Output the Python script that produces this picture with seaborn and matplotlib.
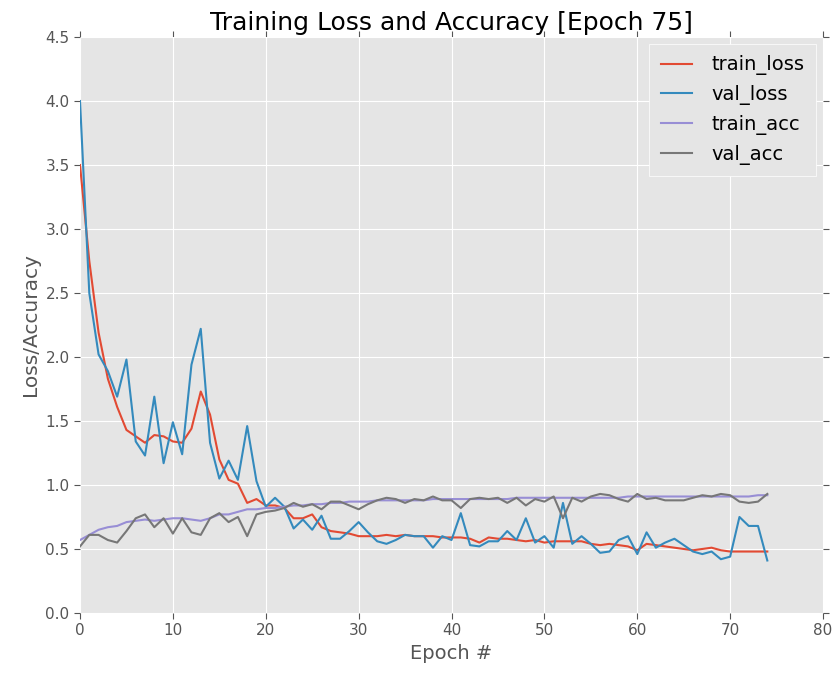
import matplotlib
matplotlib.use("Agg")
import matplotlib.pyplot as plt
import seaborn as sns
import pandas as pd
import numpy as np

# values, one per epoch (0..74)
train_loss = [3.50, 2.75, 2.19, 1.83, 1.61, 1.43, 1.38, 1.33, 1.39, 1.38,
              1.34, 1.33, 1.44, 1.73, 1.55, 1.20, 1.04, 1.01, 0.86, 0.89,
              0.84, 0.84, 0.82, 0.74, 0.74, 0.77, 0.67, 0.64, 0.63, 0.62,
              0.60, 0.60, 0.60, 0.61, 0.60, 0.61, 0.60, 0.60, 0.60, 0.59,
              0.59, 0.59, 0.58, 0.55, 0.59, 0.58, 0.58, 0.57, 0.56, 0.57,
              0.55, 0.56, 0.56, 0.56, 0.56, 0.54, 0.53, 0.54, 0.53, 0.52,
              0.49, 0.54, 0.53, 0.52, 0.51, 0.50, 0.49, 0.50, 0.51, 0.49,
              0.48, 0.48, 0.48, 0.48, 0.48]
val_loss = [4.00, 2.50, 2.02, 1.89, 1.69, 1.98, 1.34, 1.23, 1.69, 1.17,
            1.49, 1.24, 1.94, 2.22, 1.33, 1.05, 1.19, 1.04, 1.46, 1.03,
            0.83, 0.90, 0.83, 0.66, 0.73, 0.65, 0.76, 0.58, 0.58, 0.64,
            0.71, 0.63, 0.56, 0.54, 0.57, 0.61, 0.60, 0.60, 0.51, 0.60,
            0.57, 0.78, 0.53, 0.52, 0.56, 0.56, 0.64, 0.57, 0.74, 0.55,
            0.60, 0.51, 0.86, 0.54, 0.60, 0.54, 0.47, 0.48, 0.57, 0.60,
            0.46, 0.63, 0.51, 0.55, 0.58, 0.53, 0.48, 0.46, 0.48, 0.42,
            0.44, 0.75, 0.68, 0.68, 0.41]
train_acc = [0.57, 0.61, 0.65, 0.67, 0.68, 0.71, 0.72, 0.73, 0.72, 0.73,
             0.74, 0.74, 0.73, 0.72, 0.74, 0.77, 0.77, 0.79, 0.81, 0.81,
             0.82, 0.82, 0.83, 0.84, 0.84, 0.85, 0.85, 0.86, 0.86, 0.87,
             0.87, 0.87, 0.88, 0.88, 0.88, 0.88, 0.88, 0.88, 0.89, 0.89,
             0.89, 0.89, 0.89, 0.89, 0.89, 0.89, 0.89, 0.90, 0.90, 0.90,
             0.90, 0.90, 0.90, 0.90, 0.90, 0.90, 0.90, 0.90, 0.90, 0.91,
             0.91, 0.91, 0.91, 0.91, 0.91, 0.91, 0.91, 0.91, 0.91, 0.91,
             0.91, 0.91, 0.91, 0.92, 0.92]
val_acc = [0.52, 0.61, 0.61, 0.57, 0.55, 0.64, 0.74, 0.77, 0.67, 0.74,
           0.62, 0.74, 0.63, 0.61, 0.74, 0.78, 0.71, 0.75, 0.60, 0.77,
           0.79, 0.80, 0.82, 0.86, 0.83, 0.85, 0.81, 0.87, 0.87, 0.84,
           0.81, 0.85, 0.88, 0.90, 0.89, 0.86, 0.89, 0.88, 0.91, 0.88,
           0.88, 0.82, 0.89, 0.90, 0.89, 0.90, 0.86, 0.90, 0.84, 0.89,
           0.87, 0.91, 0.74, 0.90, 0.87, 0.91, 0.93, 0.92, 0.89, 0.87,
           0.93, 0.89, 0.90, 0.88, 0.88, 0.88, 0.90, 0.92, 0.91, 0.93,
           0.92, 0.87, 0.86, 0.87, 0.93]
epochs = np.arange(len(train_loss))

df = pd.DataFrame({"epoch": epochs, "train_loss": train_loss, "val_loss": val_loss,
                   "train_acc": train_acc, "val_acc": val_acc})
colors = {"train_loss": "#E24A33", "val_loss": "#348ABD",
          "train_acc": "#988ED5", "val_acc": "#777777"}

plt.style.use("ggplot")
plt.rcParams["font.family"] = ["DejaVu Sans"]
plt.rcParams["xtick.top"] = True
plt.rcParams["ytick.right"] = True
plt.rcParams["xtick.direction"] = "out"
plt.rcParams["ytick.direction"] = "out"

fig = plt.figure(figsize=(8.36, 6.73), dpi=100)
ax = fig.add_axes([0.0957, 0.0892, 0.8888, 0.8558])

for col in ["train_loss", "val_loss", "train_acc", "val_acc"]:
    sns.lineplot(data=df, x="epoch", y=col, ax=ax, color=colors[col],
                 label=col, linewidth=1.5)

ax.set_xlim(0, 80)
ax.set_ylim(0, 4.5)
ax.set_xticks(np.arange(0, 81, 10))
ax.set_yticks(np.arange(0, 4.51, 0.5))
ax.yaxis.set_major_formatter(matplotlib.ticker.FormatStrFormatter("%.1f"))
ax.tick_params(labelsize=11, colors="#555555", length=4)
ax.set_title("Training Loss and Accuracy [Epoch 75]", fontsize=18, color="black", pad=5)
ax.set_xlabel("Epoch #", fontsize=14, color="#555555")
ax.set_ylabel("Loss/Accuracy", fontsize=14.5, color="#555555")
for s in ax.spines.values():
    s.set_visible(False)

leg = ax.legend(loc="upper right", fontsize=14, fancybox=False, handlelength=1.6,
                handletextpad=1.0, labelspacing=0.5, borderpad=0.6, borderaxespad=0.35)
leg.get_frame().set_facecolor("#E5E5E5")
leg.get_frame().set_edgecolor("white")
leg.get_frame().set_alpha(1)

fig.savefig("out.png", dpi=100)
